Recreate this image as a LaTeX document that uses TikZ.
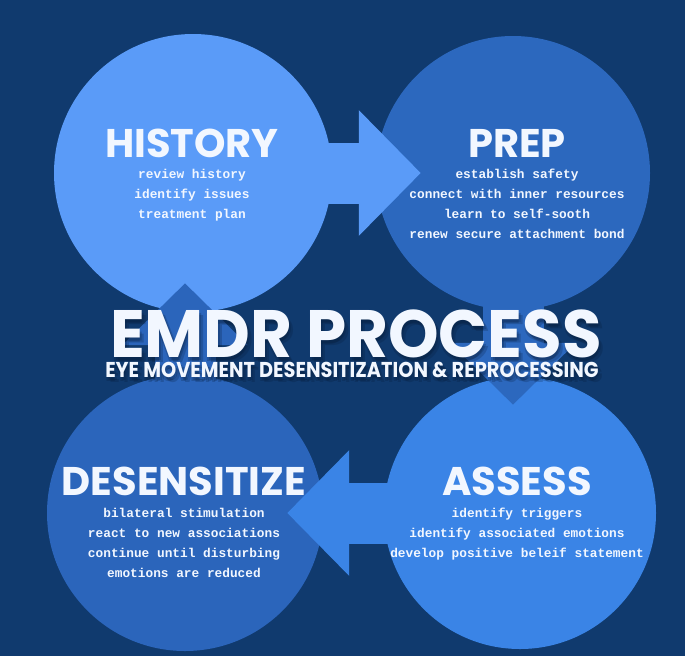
\documentclass[tikz,border=0pt]{standalone}
\usepackage{fontspec}
\usetikzlibrary{arrows.meta}

\newfontfamily\headfont{Poppins}
\newfontfamily\titlefont{Poppins}[FakeStretch=0.96]
\newfontfamily\subfont{Poppins}[FakeStretch=0.9]
\newfontfamily\bodyfont{Liberation Mono}

\definecolor{bgnavy}{HTML}{103A6E}
\definecolor{histblue}{HTML}{5A9BF8}
\definecolor{prepblue}{HTML}{2C68BE}
\definecolor{desblue}{HTML}{2B65BB}
\definecolor{assblue}{HTML}{3A84E6}
\definecolor{inkwhite}{HTML}{F2F7FF}
\definecolor{shade}{HTML}{061A36}

\begin{document}
\begin{tikzpicture}[
		x=1pt, y=-1pt,
		stage/.style={circle, draw=none, inner sep=0pt},
		heading/.style={text=inkwhite, inner sep=0pt, anchor=base, font=\headfont\bfseries\fontsize{40}{40}\selectfont},
		notes/.style={text=inkwhite, inner sep=0pt, anchor=base, align=center, font=\bodyfont\bfseries\fontsize{12.8}{20}\selectfont},
		flow/.style={line width=61pt, -{Triangle[length=62pt,width=122pt]}, shorten <=-12pt},
		bigtitle/.style={inner sep=0pt, anchor=base, font=\titlefont\bfseries\fontsize{67}{67}\selectfont},
		subtitle/.style={inner sep=0pt, anchor=base, font=\subfont\bfseries\fontsize{21.5}{21.5}\selectfont}
	]
		\fill[bgnavy] (0,0) rectangle (685,656);
		\useasboundingbox (0,0) rectangle (685,656);

		% The four stages
		\node[stage, fill=histblue, minimum size=278pt] (hist) at (193,173) {};
		\node[stage, fill=prepblue, minimum size=274pt] (prep) at (513,173) {};
		\node[stage, fill=desblue, minimum size=276pt] (des) at (185,513) {};
		\node[stage, fill=assblue, minimum size=272pt] (ass) at (520,513) {};

		% Block arrows round the cycle
		\draw[flow, histblue, shorten >=-45pt] (hist.east) -- (prep.west);
		\draw[flow, prepblue, shorten >=-28pt] (prep.south) -- (prep |- ass.north);
		\draw[flow, assblue, shorten >=-36pt] (ass.west) -- (des.east);
		\draw[flow, desblue, shorten >=-29pt] (des.north) -- (des |- hist.south);

		% Stage texts (notes sit on the baseline of their last line)
		\node[heading] (histhead) at (192,157) {HISTORY};
		\node[notes] (histnotes) at (192,218) {review history\\identify issues\\treatment plan};

		\node[heading] (prephead) at (517,157) {PREP};
		\node[notes] (prepnotes) at (517,238) {establish safety\\connect with inner resources\\learn to self-sooth\\renew secure attachment bond};

		\node[heading] (deshead) at (184,495) {DESENSITIZE};
		\node[notes] (desnotes) at (184,577) {bilateral stimulation\\react to new associations\\continue until disturbing\\emotions are reduced};

		\node[heading] (asshead) at (517,495) {ASSESS};
		\node[notes] (assnotes) at (517,557) {identify triggers\\identify associated emotions\\develop positive beleif statement};

		% Title with soft shadow
		\foreach \dx/\dy [count=\k] in {2/3, 4/5, 0/4}{
			\node[bigtitle, text=shade, opacity=0.22] (tshadow\k) at (356+\dx,357+\dy) {EMDR PROCESS};
			\node[subtitle, text=shade, opacity=0.22] (sshadow\k) at (352+\dx,377+\dy) {EYE MOVEMENT DESENSITIZATION \& REPROCESSING};
		}
		\node[bigtitle, text=inkwhite] (title) at (356,357) {EMDR PROCESS};
		\node[subtitle, text=inkwhite] (sub) at (352,377) {EYE MOVEMENT DESENSITIZATION \& REPROCESSING};
	\end{tikzpicture}
\end{document}
